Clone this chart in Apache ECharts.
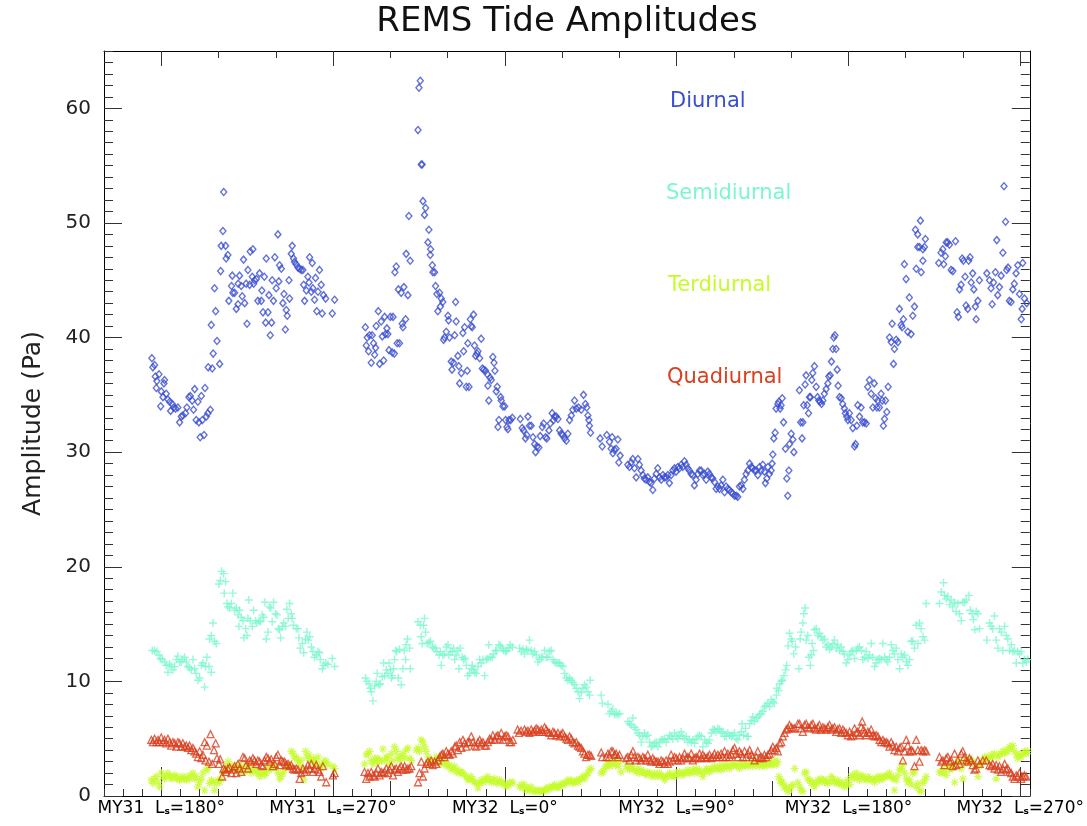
<!DOCTYPE html>
<html><head><meta charset="utf-8">
<script src="https://cdn.jsdelivr.net/npm/echarts@6/dist/echarts.min.js"></script>
<style>html,body{margin:0;padding:0;background:#fff}#c{width:1087px;height:826px}</style>
</head><body><div id="c"></div>
<script>
// ---- axis / tick labels ----
const xTickValues = [180, 270, 360, 450, 540, 630];
const xTickYears = ['MY31', 'MY31', 'MY32', 'MY32', 'MY32', 'MY32'];
const xTickLs = ['180°', '270°', '0°', '90°', '180°', '270°'];
const xMediumTicks = [300, 500, 600];
const xTopTicks = [180, 210, 240, 270, 300, 330, 360, 390, 420, 450, 480, 510, 540, 570, 600, 630];
const yTickValues = [0, 10, 20, 30, 40, 50, 60];
const seriesNames = ['Diurnal', 'Semidiurnal', 'Terdiurnal', 'Quadiurnal'];

// ---- data: [cumulative Ls (deg), amplitude (Pa)] ----
const diurnal = [
[175.1,38.2],[175.6,37.4],[176.5,37.6],[176.9,36.6],[178.8,36.8],[177.7,36.2],[181.7,36.3],[181.4,36.0],[177.4,35.6],[180.0,35.3],[179.7,34.0],[180.9,34.8],[182.6,35.1],[183.5,34.6],[184.4,34.4],[184.9,33.6],[185.8,34.2],[186.5,33.9],[187.5,33.8],[188.7,33.9],[189.6,32.6],[190.5,33.1],[191.3,33.2],[192.7,33.4],[193.4,33.9],[194.5,34.8],[195.2,34.9],[196.2,34.5],[196.9,33.7],[197.5,35.5],[198.3,32.8],[199.2,34.4],[199.7,32.6],[200.4,31.3],[201.0,34.9],[201.5,32.8],[202.4,31.5],[202.9,35.6],[203.6,33.1],[204.4,33.4],[205.7,33.7],[204.6,37.4],[206.7,37.3],[206.2,41.1],[207.2,38.6],[207.9,44.3],[208.5,42.3],[209.2,39.7],[210.6,37.7],[211.1,45.8],[211.4,48.0],[212.3,49.3],[212.7,52.7],[213.7,48.0],[214.0,46.9],[214.9,47.2],[215.4,43.2],[217.2,45.4],[216.8,44.5],[217.5,43.9],[218.4,43.9],[219.3,42.5],[220.2,42.9],[221.0,45.4],[220.3,44.7],[221.9,44.5],[222.4,43.6],[223.1,46.8],[223.7,43.0],[224.5,44.7],[224.9,41.2],[225.4,45.9],[226.3,44.6],[226.6,47.5],[227.7,45.3],[228.0,47.7],[228.4,44.7],[228.9,45.0],[229.8,45.1],[230.6,43.2],[231.5,45.6],[232.4,43.2],[232.7,44.1],[233.3,42.2],[234.0,45.3],[234.7,41.3],[235.0,46.9],[235.9,42.2],[236.4,43.7],[237.1,40.2],[237.8,41.3],[238.1,45.0],[238.8,43.2],[239.5,47.0],[240.2,44.3],[241.1,49.0],[241.6,44.9],[242.0,46.3],[242.9,46.0],[243.7,43.0],[244.3,43.8],[245.0,40.7],[245.5,42.4],[246.0,41.9],[246.9,45.0],[247.2,43.4],[248.1,47.3],[248.6,48.0],[249.3,46.9],[249.8,46.6],[250.7,46.4],[251.6,46.1],[252.5,46.0],[253.3,45.9],[254.2,45.9],[254.6,44.6],[255.1,43.2],[256.0,44.1],[256.8,45.3],[257.4,44.8],[257.7,47.0],[258.6,44.0],[259.1,46.5],[259.4,44.3],[260.3,43.3],[260.8,45.2],[261.5,42.3],[262.1,44.0],[262.9,45.9],[263.8,44.6],[264.3,42.1],[265.0,43.7],[266.1,43.4],[269.6,42.1],[270.8,43.3],
[286.9,40.9],[287.4,39.3],[287.9,40.0],[288.6,38.8],[289.1,40.2],[290.0,37.8],[290.5,40.2],[291.2,39.5],[291.8,38.5],[292.3,39.1],[292.6,41.0],[293.7,42.3],[294.4,37.7],[295.2,41.4],[295.8,40.1],[296.5,38.0],[297.0,41.8],[297.5,40.3],[298.2,40.8],[298.7,40.3],[299.3,38.9],[300.0,41.8],[301.0,38.7],[301.4,41.8],[302.1,38.6],[302.4,45.7],[303.1,46.2],[303.6,39.5],[304.2,44.2],[304.8,39.5],[305.7,43.9],[306.2,41.2],[306.6,40.9],[307.1,44.4],[308.0,41.6],[308.3,47.3],[309.2,43.7],[309.7,50.6],[310.4,46.7],[314.5,58.1],[315.0,61.8],[315.7,62.4],[316.2,55.1],[316.7,55.1],[317.1,51.9],[317.9,50.7],[318.5,51.3],[320.2,49.4],[319.7,48.3],[321.1,47.7],[320.9,47.2],[322.0,46.3],[322.3,45.7],[323.2,45.7],[323.7,44.5],[324.4,43.8],[324.9,42.3],[325.8,43.9],[326.2,42.7],[326.7,43.4],[327.5,43.1],[327.9,39.8],[328.4,40.0],[329.3,40.5],[330.2,41.9],[330.5,41.5],[331.0,40.0],[331.9,37.9],[332.3,37.2],[333.1,37.8],[333.7,40.2],[334.2,43.1],[334.5,41.4],[335.4,38.4],[335.9,37.5],[336.3,36.0],[337.2,36.9],[338.0,40.4],[338.4,38.8],[338.9,40.9],[339.8,35.7],[340.3,37.1],[340.6,39.5],[341.2,35.7],[341.9,41.6],[342.4,41.0],[342.9,40.9],[343.6,42.0],[344.1,39.3],[344.7,38.4],[345.4,38.6],[345.9,38.8],[346.8,38.2],[347.6,39.9],[348.2,37.3],[348.9,37.2],[349.9,37.1],[350.8,36.8],[351.1,35.8],[351.6,34.5],[352.3,36.5],[352.9,36.3],[353.7,38.3],[354.3,37.8],[354.8,37.1],[355.5,35.3],[356.0,35.7],[356.4,32.2],[356.9,32.8],[357.8,34.8],[358.1,34.5],[359.0,34.0],[359.9,34.0],[360.4,32.8],[361.1,32.2],[361.6,32.0],[362.1,32.8],[363.0,32.8],[363.9,33.0],[368.1,32.9],[369.1,32.1],[369.8,31.9],[370.8,31.2],[371.5,31.5],[372.1,33.1],[372.9,32.3],[373.8,32.3],[374.7,31.3],[375.6,30.7],[376.1,30.0],[376.8,30.5],[377.8,30.4],[378.5,31.4],[379.6,32.2],[380.3,32.5],[381.3,31.3],[382.0,31.2],[383.1,31.9],[383.8,32.5],[384.8,33.4],[385.5,32.8],[386.0,33.1],[386.9,33.1],[387.8,32.9],[388.7,31.9],[389.5,31.6],[390.4,31.5],[391.3,31.2],[392.2,31.0],[393.0,31.6],[393.9,32.8],[394.8,33.2],[395.6,33.7],[396.5,34.5],[397.4,33.8],[398.6,33.9],
[400.0,33.7],[401.2,35.0],[402.2,34.2],[402.9,33.9],[403.5,33.2],[404.0,32.8],[404.3,32.3],[404.9,31.7],[409.9,31.2],[411.0,30.5],[413.4,31.5],[414.8,30.9],[415.7,30.3],[416.2,31.3],[416.6,29.9],[417.4,30.2],[418.3,30.3],[419.2,31.1],[419.7,29.1],[420.4,29.7],[424.4,28.9],[425.3,28.7],[426.2,29.1],[427.0,29.4],[427.9,28.6],[428.8,27.8],[429.7,29.4],[430.5,28.9],[431.4,28.4],[432.3,28.0],[433.1,27.7],[434.0,27.6],[434.9,27.8],[435.8,27.4],[436.6,27.3],[437.5,26.7],[438.4,27.7],[439.3,28.1],[440.1,28.6],[441.0,27.8],[441.9,27.6],[442.8,28.0],[443.6,27.8],[444.5,27.8],[445.4,28.0],[446.2,27.3],[447.1,28.0],[448.0,28.4],[448.9,28.6],[449.7,28.3],[450.6,28.7],[451.5,28.6],[452.4,28.9],[453.2,28.7],[454.1,29.2],[455.0,28.9],[455.8,28.6],[456.7,28.4],[457.6,28.1],[458.5,28.0],[459.3,27.1],[460.2,27.6],[461.1,28.1],[462.0,28.4],[462.8,28.4],[463.7,28.0],[464.6,28.1],[465.5,27.6],[466.3,28.3],[467.2,28.1],[468.1,27.8],[468.9,27.7],[469.8,27.4],[470.7,26.8],[471.6,27.0],[472.4,26.8],[473.3,27.1],[474.2,27.6],[475.1,26.5],[475.9,27.0],[476.8,26.8],[477.7,26.7],[478.5,26.5],[479.4,26.4],[480.3,26.2],[481.2,26.2],[482.0,26.1],[482.9,27.0],[483.8,27.1],[484.7,26.8],[485.5,27.6],[486.4,28.1],[487.3,28.4],[488.2,29.0],[489.0,28.7],[489.9,28.6],[490.8,28.4],[491.6,28.4],[492.5,28.0],[493.4,28.7],[494.3,28.4],[495.1,28.9],[496.0,28.3],[496.5,27.3],[497.2,27.7],[497.8,28.7],[498.6,28.1],[499.5,28.4],[500.0,29.0],[500.4,29.8],[500.9,31.2],[501.6,31.7],[502.1,33.8],[503.0,34.2],[503.5,34.4],[504.2,33.8],[504.7,34.1],[505.3,34.7],[506.0,32.6],[507.0,30.3],[507.7,27.7],[508.2,26.2],[508.8,28.4],[509.1,30.7],[510.0,31.6],[510.9,31.1],[511.4,30.0],[514.3,35.4],[515.0,32.6],[515.7,31.2],[516.1,32.6],[516.6,34.1],[517.3,35.9],[517.8,36.7],[518.4,34.1],[519.1,33.4],[519.6,34.8],[520.1,34.8],[520.8,36.3],[521.3,36.9],[522.2,37.5],[523.1,35.7],[523.8,34.8],[524.5,34.5],[525.2,34.4],[525.9,34.2],[526.6,34.5],[527.4,35.1],[528.3,35.5],[529.2,36.0],[529.7,36.6],[530.4,36.7],[531.1,37.9],[531.8,39.0],[532.3,40.0],[532.9,40.2],[533.5,39.0],[534.1,37.2],[534.6,35.8],[535.3,34.8],[536.2,34.7],[537.0,34.2],[537.9,33.8],[538.4,33.4],[539.1,33.1],[539.7,32.8],[540.5,33.4],[541.4,32.8],[542.3,32.1],[543.2,30.5],[543.7,30.7],[544.4,32.3],[544.9,34.1],[545.8,33.1],[546.6,33.9],[547.5,32.6],[548.4,32.6],[549.3,32.5],[550.1,35.7],[551.0,36.3],[551.9,35.1],[552.8,33.9],[553.5,36.0],[554.2,34.7],[554.9,33.9],[555.4,34.5],[556.2,33.9],[557.1,35.1],[557.7,34.5],[558.3,32.3],[558.9,32.9],[559.4,34.5],[560.1,33.5],[560.8,35.7],[561.5,40.0],[562.4,39.6],[562.9,41.2],[563.6,37.7],[564.1,39.0],[565.0,39.8],[565.9,39.6],[566.7,42.5],[567.6,41.1],[568.1,40.9],[568.8,41.6],[569.3,46.4],[570.2,45.1],[571.1,40.5],[571.9,43.5],[572.8,40.3],[573.7,41.9],[574.6,42.7],[575.5,46.0],[576.3,47.9],[578.1,45.7],[579.0,46.7],[579.8,47.9],[575.1,49.4],[576.3,49.0],[577.7,50.2],[580.3,48.6],[577.2,47.9],[579.0,47.7],
[587.3,46.5],[588.5,47.4],[589.4,47.7],[589.9,46.4],[590.8,47.1],[591.2,48.3],[592.0,48.3],[592.9,48.1],[593.8,45.9],[594.7,45.8],[596.1,48.4],[596.9,42.2],[597.6,41.8],[598.2,44.2],[599.0,44.6],[599.6,46.9],[600.2,46.7],[601.1,45.3],[601.6,42.8],[602.5,42.5],[603.0,46.7],[603.7,47.0],[604.3,44.8],[605.1,45.6],[605.7,44.2],[606.5,42.7],[606.9,41.6],[607.8,43.2],[608.6,45.0],[612.5,45.6],[613.9,45.0],[614.7,44.3],[615.3,42.9],[616.0,44.8],[617.0,45.7],[617.7,48.5],[618.2,43.7],[619.1,44.4],[620.0,45.4],[620.9,47.4],[621.5,53.2],[622.3,50.1],[622.9,45.9],[623.6,46.1],[624.3,43.2],[625.2,43.1],[626.1,44.2],[626.9,44.7],[627.8,45.6],[628.7,46.3],[629.6,43.8],[630.5,41.6],[631.0,42.5],[631.3,46.5],[632.2,43.4],[633.4,43.0]
];

const semidiurnal = [
[175.3,12.7],[176.5,12.7],[177.7,12.6],[178.8,12.3],[179.5,12.0],[180.5,11.9],[181.7,11.7],[182.6,11.4],[183.5,10.8],[184.4,11.5],[185.2,11.3],[186.1,11.0],[187.0,11.3],[187.9,11.9],[188.7,12.2],[189.6,11.7],[190.5,11.7],[191.3,11.9],[192.2,12.1],[193.1,11.7],[194.0,11.3],[194.8,11.2],[195.7,11.0],[196.6,11.9],[197.5,11.1],[198.3,10.7],[199.2,10.1],[200.1,10.3],[201.0,11.4],[201.8,11.6],[202.7,9.5],[203.2,11.3],[203.9,12.1],[205.0,11.3],[206.2,10.8],[205.3,13.7],[206.2,14.0],[207.1,15.1],[207.9,13.5],[208.8,13.3],[210.2,18.5],[210.9,18.8],[211.6,19.6],[212.7,19.4],[213.7,18.7],[213.0,17.7],[214.4,16.8],[214.9,16.5],[215.8,16.4],[216.7,16.8],[217.5,17.7],[218.4,16.2],[219.3,16.4],[220.2,15.8],[220.7,14.8],[221.0,16.2],[221.9,15.6],[222.8,15.3],[223.3,13.8],[224.2,14.6],[224.9,14.0],[225.4,15.5],[225.9,17.1],[226.6,15.3],[227.7,14.8],[228.4,16.2],[229.4,15.3],[230.1,15.1],[231.2,15.3],[231.9,15.2],[232.9,15.8],[233.6,15.6],[234.3,16.9],[235.0,13.7],[235.9,14.3],[236.7,16.5],[237.4,16.4],[238.1,15.2],[238.8,16.9],[239.9,15.9],[240.6,15.8],[241.3,14.6],[242.0,14.5],[242.5,13.8],[243.4,14.8],[244.1,15.1],[245.1,14.8],[245.8,16.3],[246.5,15.5],[247.2,16.8],[248.1,15.9],[248.6,15.5],[249.3,14.9],[250.7,14.6],[251.6,14.6],[252.1,13.8],[252.8,12.9],[253.9,13.3],[254.6,12.5],[255.6,13.7],[256.3,14.3],[257.0,13.6],[257.7,13.9],[258.6,13.0],[259.4,12.6],[260.3,12.1],[261.2,12.3],[262.1,12.6],[262.9,12.5],[263.3,11.9],[264.3,11.1],[265.0,11.4],[266.1,11.6],[267.3,11.5],[269.6,12.0],[270.8,11.3],
[287.0,10.3],[287.7,10.0],[288.8,9.8],[289.5,9.4],[290.0,9.1],[290.9,8.3],[291.8,9.6],[292.6,10.0],[293.1,10.7],[294.0,9.7],[294.7,9.8],[295.8,10.4],[296.5,11.6],[297.0,10.5],[297.9,11.0],[298.7,10.7],[299.3,11.6],[300.0,11.0],[300.5,10.3],[301.0,10.5],[301.7,11.1],[302.2,11.9],[302.8,12.7],[303.4,12.6],[304.2,10.3],[304.8,12.8],[305.7,9.7],[306.6,11.1],[307.3,12.7],[308.0,11.9],[308.3,13.2],[309.0,13.7],[310.1,12.9],[310.4,11.1],[314.5,15.2],[315.7,14.9],[316.2,13.9],[316.7,13.3],[317.4,14.9],[317.9,15.5],[318.5,14.3],[319.2,13.3],[320.2,13.4],[320.9,13.5],[322.0,13.0],[322.7,12.9],[323.7,12.9],[324.4,12.6],[325.5,12.3],[326.2,12.6],[326.7,11.4],[327.5,12.3],[328.4,12.4],[329.3,13.0],[330.2,13.2],[330.7,12.3],[331.4,12.6],[332.4,12.6],[333.1,12.9],[333.7,11.9],[334.5,12.3],[335.4,12.7],[335.9,11.1],[336.6,12.9],[337.7,12.1],[338.4,11.9],[339.1,12.0],[339.8,11.4],[340.6,10.5],[341.5,10.7],[342.4,11.1],[342.9,11.4],[343.6,11.0],[344.1,10.8],[345.0,10.7],[345.9,11.3],[346.8,11.9],[347.6,11.6],[348.5,11.9],[349.4,10.5],[350.2,11.9],[351.1,12.0],[351.6,13.2],[352.3,12.1],[353.4,12.1],[354.1,12.4],[355.1,12.7],[355.8,12.7],[356.9,13.2],[357.8,13.1],[358.6,12.9],[359.3,12.7],[360.4,12.6],[361.1,12.7],[362.1,12.9],[362.8,13.2],[363.9,13.0],[367.7,12.9],[368.6,12.6],[369.5,12.8],[370.3,12.4],[371.2,12.8],[372.1,12.7],[372.9,13.6],[373.8,12.7],[374.7,12.4],[375.6,12.6],[376.4,12.3],[377.3,11.7],[378.2,11.9],[379.1,12.1],[379.9,12.1],[380.8,12.7],[381.7,12.1],[382.5,12.1],[383.4,12.6],[384.3,12.7],[385.2,11.9],[386.0,11.7],[386.9,11.6],[387.8,11.6],[388.7,11.6],[389.5,11.4],[390.4,11.3],[391.3,10.7],[392.2,10.3],[393.0,10.1],
[393.9,10.3],[394.8,10.1],[395.6,9.9],[396.5,9.7],[397.4,9.4],[398.3,9.1],[399.1,8.5],[400.0,9.0],[400.9,9.4],[401.7,9.7],[402.6,9.5],[403.5,9.1],[404.4,8.8],[404.7,10.1],[410.5,8.8],[411.0,8.1],[414.0,8.0],[414.8,7.2],[415.7,7.4],[416.6,7.6],[417.5,7.1],[418.3,7.2],[419.2,7.1],[420.1,7.2],[424.4,6.5],[425.3,6.3],[426.2,6.2],[427.1,6.8],[427.9,6.0],[428.8,5.8],[429.7,5.5],[430.6,5.3],[431.4,4.7],[432.3,5.2],[433.2,5.5],[434.0,5.2],[434.9,5.3],[435.8,4.7],[436.7,4.3],[437.5,4.4],[438.4,4.6],[439.3,4.7],[440.2,4.3],[441.0,4.7],[441.9,4.9],[442.8,4.9],[443.7,5.0],[444.5,4.7],[445.4,5.0],[446.3,5.3],[447.1,5.2],[448.0,5.0],[448.9,5.5],[449.8,5.2],[450.6,5.0],[451.5,5.3],[452.4,5.6],[453.3,5.2],[454.1,5.0],[455.0,5.2],[455.9,4.7],[456.7,4.9],[457.6,4.7],[458.5,4.9],[459.4,4.6],[460.2,5.0],[461.1,5.2],[462.0,5.3],[462.9,5.2],[463.7,4.3],[464.6,4.9],[465.5,4.7],[466.4,4.6],[467.2,4.9],[468.1,5.5],[469.0,5.8],[469.8,5.8],[470.7,5.6],[471.6,5.9],[472.5,5.8],[473.3,5.5],[474.2,5.6],[475.1,5.2],[476.0,5.2],[476.8,5.5],[477.7,5.3],[478.6,5.2],[479.4,5.3],[480.3,5.5],[481.2,5.0],[482.1,4.9],[482.9,5.3],[483.8,5.6],[484.3,6.3],[485.0,5.3],[486.1,5.9],[486.8,5.2],[487.5,5.2],[488.2,6.3],[489.1,6.6],[489.9,6.9],[490.8,6.5],[491.7,6.8],[492.5,6.9],[493.4,7.1],[494.3,7.2],[495.2,7.4],[496.0,7.8],[496.9,7.9],[497.8,8.1],[498.7,7.8],[499.5,8.4],[500.4,8.2],[501.3,8.1],[502.2,8.8],[502.5,9.4],[503.4,9.2],[503.9,9.8],[504.8,10.0],[505.3,10.1],[506.2,10.5],[507.0,11.0],[507.7,11.4],[508.4,13.1],[509.1,14.2],[510.0,13.7],[510.5,13.5],[511.4,12.4],[512.3,13.0],[514.0,11.1],[514.7,13.7],[515.2,14.3],[516.1,15.1],[516.6,15.9],[517.3,16.4],[517.9,13.6],[518.7,14.0],[519.3,12.1],[520.0,11.4],[520.5,12.3],[521.0,13.3],[521.7,12.7],[522.2,14.5],[523.1,14.6],[524.0,14.0],[524.8,14.2],[525.7,13.9],[526.6,13.6],[527.5,13.7],[528.3,13.0],[529.2,13.2],[530.1,12.8],[531.0,13.0],[531.8,13.3],[532.7,13.6],[533.6,12.9],[534.4,13.2],[535.3,12.7],[536.2,13.0],[537.1,12.6],[537.9,12.4],[538.8,11.6],[539.7,11.9],[540.6,12.3],[541.4,12.6],[542.3,12.7],[543.2,12.0],[544.1,12.7],[544.9,12.9],[545.8,13.0],[546.7,12.7],[547.5,11.9],[548.4,12.1],[549.3,12.6],[550.2,12.0],[551.0,12.3],[551.9,13.3],[552.8,12.1],[553.7,11.3],[554.5,11.6],[555.4,11.9],[556.3,12.0],[557.2,11.9],[558.0,13.3],[558.9,12.1],[559.8,11.9],[560.6,11.7],[561.5,12.1],[562.4,13.2],[563.3,12.7],[564.1,12.4],[565.0,12.9],[565.9,11.9],[566.8,11.1],[567.6,12.4],[568.5,12.1],[569.4,12.3],[570.3,11.7],[571.1,11.4],[572.0,11.9],[572.9,13.5],[573.7,13.5],[574.6,12.9],[575.5,14.9],[576.4,13.3],[577.2,15.1],[578.1,14.6],[579.0,13.9],[579.9,13.6],[580.7,16.8],
[587.7,16.8],[588.6,17.8],[589.8,18.6],[590.3,17.5],[591.2,17.2],[592.1,17.4],[593.0,16.7],[593.8,17.1],[594.7,16.5],[595.6,16.9],[596.4,16.1],[597.3,16.8],[598.2,15.9],[599.1,15.3],[599.9,16.9],[600.8,16.9],[601.7,17.1],[603.1,17.5],[603.8,16.2],[604.8,15.9],[605.5,15.4],[606.2,14.5],[606.9,16.1],[607.8,15.9],[608.7,14.6],[612.5,13.6],[613.9,15.1],[614.8,14.8],[615.6,14.6],[616.5,15.7],[617.4,13.6],[618.3,12.9],[619.1,14.6],[620.0,14.3],[620.9,12.7],[621.8,14.8],[622.6,14.0],[623.5,13.7],[624.4,12.7],[625.3,13.2],[626.1,12.6],[627.0,12.7],[627.9,11.6],[628.7,12.6],[629.6,12.4],[630.5,12.6],[631.4,11.6],[632.2,11.9],[633.1,11.7],[634.0,11.9]
];

const terdiurnal = [
[174.8,1.4],[175.6,1.1],[176.5,1.5],[177.4,1.7],[178.3,1.2],[179.1,0.8],[180.0,2.0],[180.9,1.7],[181.7,1.5],[182.6,1.8],[183.5,2.0],[184.4,1.7],[185.2,1.5],[186.1,1.7],[187.0,1.8],[187.9,1.5],[188.7,1.7],[189.6,1.4],[190.5,1.5],[191.3,1.7],[192.2,1.5],[193.1,1.4],[194.0,1.7],[194.8,1.5],[195.7,1.8],[196.6,2.0],[197.5,1.5],[198.3,1.7],[199.2,0.8],[200.1,1.2],[201.0,1.5],[201.8,2.0],[202.7,0.5],[203.6,2.3],[204.4,2.4],[205.3,1.1],[206.2,1.4],[207.1,1.2],[207.9,0.5],[208.8,1.1],[209.7,1.4],[210.6,1.2],[211.4,1.5],[212.3,2.0],[213.2,2.3],[214.0,2.6],[214.9,3.0],[215.8,2.7],[216.7,2.4],[217.5,2.6],[218.4,2.4],[219.3,2.6],[220.2,2.7],[221.0,2.1],[221.9,2.6],[222.8,2.3],[223.7,2.1],[224.5,2.6],[225.4,2.7],[226.3,2.3],[227.1,2.0],[228.0,2.4],[228.9,2.3],[229.8,2.1],[230.6,2.0],[231.5,1.7],[232.4,2.0],[233.3,2.1],[234.1,1.8],[235.0,2.0],[235.9,2.6],[236.7,2.3],[237.6,2.4],[238.5,2.7],[239.4,2.6],[240.2,2.4],[241.1,2.0],[242.0,1.5],[242.9,1.7],[243.7,2.0],[244.6,2.3],[245.5,2.7],[246.4,2.8],[247.2,2.6],[248.1,3.9],[249.0,3.7],[249.8,3.3],[250.7,3.4],[251.6,3.1],[252.5,2.7],[253.3,3.1],[254.2,2.3],[254.7,1.4],[255.6,3.9],[256.3,3.4],[257.4,3.6],[258.1,3.1],[259.1,3.0],[259.8,3.3],[260.3,2.8],[261.2,3.0],[262.1,3.4],[262.9,2.7],[263.8,2.4],[264.7,2.8],[265.6,3.1],[266.4,3.0],[267.3,2.7],[269.9,2.6],[270.8,2.4],
[286.5,2.8],[287.4,3.6],[288.3,3.7],[289.1,3.9],[290.0,3.1],[290.9,2.8],[291.8,3.3],[292.6,3.0],[293.5,3.3],[294.4,3.1],[295.2,3.0],[296.1,4.1],[297.0,3.1],[297.9,3.4],[298.7,3.3],[299.6,2.8],[300.5,3.7],[301.4,3.1],[302.2,4.3],[303.1,3.9],[304.0,3.4],[304.8,3.1],[305.7,3.4],[306.6,3.7],[307.5,3.3],[308.3,4.0],[309.2,4.2],[310.1,3.3],[311.0,3.1],[313.6,4.0],[314.5,4.2],[315.3,3.9],[316.2,4.9],[317.1,4.7],[317.9,4.3],[318.8,3.9],[319.7,3.4],[320.6,3.1],[321.4,2.8],[322.3,3.0],[323.2,3.1],[324.1,3.4],[324.9,3.3],[325.8,3.1],[326.7,2.8],[327.5,3.4],[328.4,3.0],[329.3,2.7],[330.2,2.6],[331.0,2.7],[331.9,2.3],[332.8,2.4],[333.7,2.6],[334.5,2.1],[335.4,2.3],[336.3,2.0],[337.2,2.1],[338.0,2.0],[338.9,1.8],[339.8,1.7],[340.6,1.4],[341.5,1.5],[342.4,1.7],[343.3,1.4],[344.1,1.2],[345.0,1.1],[345.9,0.7],[346.8,1.1],[347.6,1.4],[348.5,1.2],[349.4,1.5],[350.2,1.4],[351.1,1.7],[352.0,1.4],[352.9,1.2],[353.7,1.4],[354.6,1.5],[355.5,1.1],[356.4,1.2],[357.2,1.4],[358.1,1.1],[359.0,1.2],[359.9,1.0],[360.7,0.8],[361.6,1.0],[362.5,1.2],[363.3,1.1],[364.2,1.2],[367.7,0.8],[368.6,1.0],[369.5,0.7],[370.3,1.0],[371.2,0.5],[372.1,0.7],[372.9,0.5],[373.8,0.8],[374.7,0.4],[375.6,0.5],[376.4,0.4],[377.3,0.5],[378.2,0.4],[379.1,0.5],[379.9,0.4],[380.8,0.5],[381.7,0.7],[382.5,0.5],[383.4,0.8],[384.3,0.7],[385.2,0.8],[386.0,1.0],[386.9,0.8],[387.8,0.7],[388.7,0.8],[389.5,1.1],[390.4,1.0],[391.3,1.1],[392.2,1.2],[393.0,1.4],
[393.9,1.2],[394.8,1.4],[395.6,1.1],[396.5,1.2],[397.4,1.4],[398.3,1.2],[399.1,1.4],[400.0,1.5],[400.9,1.7],[401.7,1.5],[402.6,1.8],[403.5,2.0],[404.4,2.3],[405.2,2.4],[410.5,2.0],[411.4,2.1],[412.2,2.4],[413.1,2.6],[414.0,2.8],[414.8,2.6],[415.7,3.0],[416.6,2.7],[417.5,3.1],[418.3,2.8],[419.2,2.6],[420.1,3.0],[420.9,2.1],[423.6,2.6],[424.4,2.4],[425.3,2.3],[426.2,2.6],[427.1,2.4],[427.9,2.3],[428.8,2.1],[429.7,2.4],[430.6,2.0],[431.4,2.3],[432.3,2.1],[433.2,2.0],[434.0,1.8],[434.9,2.1],[435.8,2.0],[436.7,1.8],[437.5,1.7],[438.4,2.0],[439.3,1.8],[440.2,1.7],[441.0,2.0],[441.9,1.8],[442.8,1.7],[443.7,1.4],[444.5,1.7],[445.4,1.8],[446.3,2.0],[447.1,1.7],[448.0,1.8],[448.9,1.7],[449.8,2.0],[450.6,1.8],[451.5,2.1],[452.4,2.0],[453.3,1.8],[454.1,2.1],[455.0,2.0],[455.9,2.3],[456.7,2.0],[457.6,2.1],[458.5,2.3],[459.4,2.0],[460.2,2.4],[461.1,2.1],[462.0,2.3],[462.9,2.0],[463.7,1.7],[464.6,2.1],[465.5,2.4],[466.3,2.3],[467.2,2.1],[468.1,2.4],[469.0,2.3],[469.8,2.6],[470.7,2.4],[471.6,2.3],[472.4,2.6],[473.3,2.3],[474.2,2.7],[475.1,2.4],[476.0,2.6],[476.8,2.7],[477.7,2.4],[478.6,2.6],[479.4,2.7],[480.3,2.8],[481.2,2.6],[482.1,2.7],[482.9,2.4],[483.8,2.8],[484.7,2.6],[485.6,2.7],[486.4,2.8],[487.3,2.6],[488.2,2.7],[489.1,2.8],[489.9,2.6],[490.8,3.1],[491.7,2.7],[492.5,2.8],[493.4,2.6],[494.3,2.8],[495.2,2.7],[496.0,2.6],[496.9,2.8],[497.8,2.7],[498.7,3.0],[499.5,2.7],[500.4,2.8],[501.3,3.1],[502.2,2.7],[503.0,3.0],[503.5,1.7],[504.2,1.4],[504.8,1.1],[505.6,1.2],[506.5,0.7],[507.4,0.8],[508.3,0.4],[509.1,0.5],[510.0,0.8],[510.9,1.0],[511.8,2.4],[513.5,1.2],[514.4,0.8],[515.2,0.5],[516.1,0.4],[517.0,2.0],[517.9,2.1],[518.7,1.5],[519.6,1.4],[520.5,1.1],[521.4,1.2],[522.2,0.8],[523.1,1.1],[524.0,1.4],[524.8,1.2],[525.7,1.5],[526.6,1.4],[527.5,1.2],[528.3,1.4],[529.2,1.1],[530.1,1.2],[531.0,1.7],[531.8,1.5],[532.7,1.2],[533.6,1.1],[534.4,1.4],[535.3,1.1],[536.2,1.0],[537.1,1.2],[537.9,0.8],[538.8,1.0],[539.7,1.4],[540.6,1.0],[541.4,1.7],[542.3,1.8],[543.2,1.5],[544.1,2.0],[544.9,1.7],[545.8,1.4],[546.7,1.8],[547.5,1.7],[548.4,1.5],[549.3,1.4],[550.2,1.7],[551.0,1.5],[551.9,1.4],[552.8,1.5],[553.7,1.2],[554.5,1.5],[555.4,1.7],[556.3,1.4],[557.2,1.7],[558.0,1.5],[558.9,1.7],[559.8,1.8],[560.6,1.7],[561.5,2.0],[562.4,1.7],[563.3,1.5],[564.1,0.5],[565.0,1.4],[565.9,1.8],[566.8,2.3],[567.6,2.4],[568.5,2.7],[569.4,2.0],[570.3,1.5],[571.1,1.2],[572.0,1.4],[572.9,1.0],[573.7,2.0],[574.6,2.1],[575.5,0.8],[576.4,1.1],[577.2,0.5],[578.1,0.4],[579.0,1.1],[579.9,1.4],[580.7,1.7],
[587.7,2.1],[588.6,2.0],[589.5,2.4],[590.3,2.1],[591.2,1.8],[592.1,2.6],[593.0,2.3],[593.8,2.7],[594.7,2.4],[595.6,1.2],[596.4,2.8],[597.3,3.0],[598.2,3.1],[599.1,2.4],[599.9,1.5],[600.8,2.8],[601.7,3.1],[602.5,3.0],[603.4,3.3],[604.3,3.1],[605.2,3.0],[606.0,2.8],[607.8,1.7],[608.7,2.6],[609.5,2.8],[610.4,3.1],[611.3,3.4],[612.2,3.1],[613.0,3.4],[613.9,3.3],[614.8,3.6],[615.6,3.4],[616.5,3.7],[617.4,1.5],[618.3,3.4],[619.1,3.6],[620.0,3.7],[620.9,3.9],[621.8,3.7],[622.6,4.0],[623.5,3.9],[624.4,4.3],[625.3,4.2],[626.1,4.4],[627.0,3.9],[627.9,3.6],[628.7,3.3],[629.6,3.6],[630.5,3.4],[631.4,3.7],[632.2,3.9],[633.1,3.7],[634.0,3.9]
];

const quadiurnal = [
[174.8,4.9],[175.6,4.7],[176.5,5.0],[177.4,4.7],[178.3,4.9],[179.1,4.7],[180.0,5.1],[180.9,4.7],[181.7,4.9],[182.6,4.6],[183.5,5.0],[184.4,4.7],[185.2,4.4],[186.1,4.7],[187.0,4.6],[187.9,4.3],[188.7,4.7],[189.6,4.6],[190.5,4.3],[191.3,4.6],[192.2,4.3],[193.1,4.4],[194.0,4.2],[194.8,4.4],[195.7,4.0],[196.6,4.2],[197.5,3.9],[198.3,3.7],[199.2,3.4],[200.1,3.9],[201.0,3.3],[201.8,3.6],[202.7,4.7],[203.2,3.1],[203.9,4.4],[205.0,3.0],[205.8,5.4],[206.7,2.8],[207.6,4.0],[208.5,4.6],[209.2,3.3],[210.2,2.8],[210.9,3.2],[211.9,1.7],[212.6,2.4],[213.4,2.3],[214.0,2.1],[214.9,2.4],[215.8,2.5],[216.7,2.0],[217.5,2.3],[218.4,2.6],[219.3,2.0],[220.2,2.8],[221.0,2.4],[221.9,2.1],[222.8,3.4],[223.7,3.3],[224.5,2.7],[225.4,2.4],[226.3,3.1],[227.1,3.0],[228.0,3.3],[228.9,3.1],[229.8,2.8],[230.6,3.1],[231.5,3.0],[232.4,2.7],[233.3,2.6],[234.1,3.1],[235.0,3.4],[235.9,3.3],[236.7,3.0],[237.6,3.2],[238.5,2.6],[239.4,2.8],[240.2,3.4],[241.1,3.6],[242.0,2.7],[242.9,3.1],[243.7,3.0],[244.6,3.0],[245.5,2.7],[246.4,2.8],[247.2,2.6],[248.1,2.7],[249.0,2.4],[249.8,2.3],[250.7,2.4],[251.6,2.3],[252.5,1.5],[253.3,2.0],[254.2,2.4],[255.1,2.1],[256.0,2.3],[256.8,2.7],[257.7,2.4],[258.6,2.8],[259.4,2.1],[260.3,2.4],[261.2,2.7],[262.1,2.3],[262.9,2.1],[263.8,1.7],[264.7,2.6],[266.4,1.2],[269.9,1.8],[270.8,2.0],
[286.5,2.1],[287.4,1.5],[288.3,2.0],[289.1,1.7],[290.0,2.1],[290.9,1.8],[291.8,1.7],[292.6,2.0],[293.5,2.4],[294.4,1.8],[295.2,2.1],[296.1,2.0],[297.0,2.1],[297.9,2.4],[298.7,2.0],[299.6,2.3],[300.5,2.6],[301.4,1.8],[302.2,2.3],[303.1,2.4],[304.0,2.1],[304.8,2.4],[305.7,2.6],[306.6,2.3],[307.5,2.6],[308.3,2.3],[309.2,2.4],[310.1,2.4],[311.0,2.6],[314.5,1.2],[315.3,2.0],[316.2,3.0],[317.1,1.7],[317.9,2.4],[318.8,2.8],[319.7,3.0],[320.6,2.8],[321.4,3.1],[322.3,2.7],[323.2,3.0],[324.1,2.8],[324.9,3.1],[325.8,3.4],[326.7,3.6],[327.5,3.7],[328.4,3.4],[329.3,3.9],[330.2,3.7],[331.0,3.6],[331.9,3.9],[332.8,3.7],[333.7,4.3],[334.5,4.4],[335.4,4.0],[336.3,4.7],[337.2,4.2],[338.0,4.9],[338.9,4.6],[339.8,4.3],[340.6,4.7],[341.5,4.7],[342.4,5.2],[343.3,4.7],[344.1,4.4],[345.0,4.3],[345.9,4.7],[346.8,4.9],[347.6,4.6],[348.5,4.7],[349.4,4.4],[350.2,4.4],[351.1,4.7],[352.0,5.0],[352.9,4.9],[353.7,5.3],[354.6,4.9],[355.5,5.2],[356.4,5.3],[357.2,5.0],[358.1,5.5],[359.0,4.9],[359.9,5.2],[360.7,5.3],[361.6,5.2],[362.5,4.7],[363.3,4.7],[364.2,4.9],[366.7,5.8],[367.4,5.5],[368.5,5.7],[370.3,5.8],[371.2,5.6],[372.1,5.7],[372.9,5.5],[373.8,5.8],[374.7,5.6],[375.6,5.7],[376.4,5.9],[377.3,5.8],[378.2,5.6],[379.1,5.8],[379.9,5.6],[380.8,6.0],[381.7,5.8],[382.5,5.6],[383.4,5.5],[384.3,5.3],[385.2,5.6],[386.0,5.5],[386.9,5.3],[387.8,5.5],[388.7,5.2],[389.5,5.4],[390.4,5.5],[391.3,5.2],[392.2,5.0],[393.0,4.9],
[393.9,5.2],[394.8,5.0],[395.6,4.7],[396.5,4.6],[397.4,4.7],[398.3,4.4],[399.1,4.3],[400.0,4.2],[400.9,3.9],[401.7,3.7],[402.6,3.4],[403.5,3.6],[404.4,3.6],[405.2,3.5],[410.5,3.8],[411.0,3.4],[413.1,3.4],[414.0,3.7],[414.8,3.4],[415.7,3.9],[416.6,3.9],[417.5,3.6],[418.3,3.7],[419.2,3.4],[420.1,3.6],[423.6,3.3],[424.4,3.4],[425.3,3.1],[426.2,3.6],[427.1,3.9],[427.9,3.4],[428.8,3.1],[429.7,3.4],[430.6,3.3],[431.4,3.1],[432.3,3.4],[433.2,3.3],[434.0,3.1],[434.9,3.6],[435.8,3.1],[436.7,3.0],[437.5,3.3],[438.4,3.1],[439.3,3.0],[440.2,3.0],[441.0,2.8],[441.9,3.1],[442.8,3.0],[443.7,2.8],[444.5,3.1],[445.4,2.8],[446.3,3.0],[447.1,3.6],[448.0,3.1],[448.9,3.4],[449.8,3.3],[450.6,3.1],[451.5,3.4],[452.4,3.1],[453.3,3.3],[454.1,3.7],[455.0,3.3],[455.9,3.4],[456.7,3.3],[457.6,3.7],[458.5,3.1],[459.4,3.3],[460.2,3.4],[461.1,3.3],[462.0,3.7],[462.9,3.3],[463.7,3.6],[464.6,3.4],[465.5,3.3],[466.3,3.4],[467.2,3.6],[468.1,3.3],[469.0,3.4],[469.8,3.7],[470.7,3.4],[471.6,3.6],[472.4,3.4],[473.3,3.7],[474.2,3.4],[475.1,3.9],[476.0,3.4],[476.8,3.7],[477.7,3.4],[478.6,3.6],[479.4,4.0],[480.3,4.2],[481.2,3.7],[482.1,3.4],[482.9,3.9],[483.8,3.7],[484.7,3.4],[485.6,3.9],[486.4,3.4],[487.3,3.7],[488.2,4.0],[489.1,3.6],[489.9,3.4],[490.8,3.1],[491.7,3.4],[492.5,3.9],[493.4,3.3],[494.3,3.4],[495.2,3.3],[496.0,3.6],[496.9,3.4],[497.8,3.6],[498.7,3.7],[499.5,4.0],[500.4,4.3],[501.3,4.0],[502.2,4.2],[503.0,3.9],[503.9,4.6],[504.8,4.7],[505.6,5.2],[506.5,5.5],[507.4,5.8],[508.3,5.9],[509.1,6.2],[510.0,6.0],[510.9,5.9],[511.8,5.9],[513.5,6.3],[514.4,6.3],[515.2,5.9],[516.1,5.6],[517.0,6.2],[517.9,6.3],[518.7,6.0],[519.6,5.9],[520.5,6.2],[521.4,6.3],[522.2,5.9],[523.1,5.8],[524.0,6.0],[524.8,6.2],[525.7,5.8],[526.6,6.0],[527.5,5.9],[528.3,5.8],[529.2,6.0],[530.1,6.2],[531.0,5.8],[531.8,5.9],[532.7,6.0],[533.6,5.6],[534.4,5.8],[535.3,5.9],[536.2,5.5],[537.1,5.8],[537.9,5.6],[538.8,5.5],[539.7,5.3],[540.6,5.6],[541.4,5.2],[542.3,5.3],[543.2,5.9],[544.1,5.5],[544.9,5.6],[545.8,5.3],[546.7,6.0],[547.2,6.5],[547.9,5.8],[548.4,5.5],[549.3,5.3],[550.2,5.6],[551.0,5.5],[551.9,5.8],[552.8,5.3],[553.7,5.2],[554.5,5.3],[555.4,5.2],[556.3,4.9],[557.2,4.7],[558.0,4.9],[558.9,4.7],[559.8,4.7],[560.6,4.6],[561.5,4.3],[562.4,4.7],[563.3,4.4],[564.1,4.0],[565.0,4.3],[565.9,3.9],[566.8,4.2],[567.6,4.3],[568.5,3.1],[569.4,3.9],[570.3,4.9],[571.1,4.4],[572.0,3.9],[572.9,4.0],[573.7,3.9],[574.6,2.6],[575.5,4.9],[576.4,4.0],[577.2,3.0],[578.1,4.0],[579.0,3.9],[579.9,4.0],[580.7,3.9],
[587.7,3.4],[588.6,3.0],[589.5,3.1],[590.3,2.7],[591.2,3.3],[592.1,3.4],[593.0,3.0],[593.8,3.1],[594.7,2.6],[595.6,3.7],[596.4,2.7],[597.3,3.1],[598.2,2.8],[599.1,3.7],[599.9,3.9],[600.8,3.4],[601.7,3.1],[602.5,3.0],[603.4,3.3],[604.3,3.1],[605.2,2.7],[606.0,2.3],[606.9,2.4],[607.8,3.1],[608.7,2.8],[610.4,3.1],[612.2,3.1],[613.9,2.7],[614.8,2.6],[615.6,2.8],[616.5,2.4],[617.4,2.7],[618.3,2.3],[619.1,2.6],[620.0,2.1],[620.9,2.4],[621.8,2.8],[622.6,2.3],[623.5,2.4],[624.4,2.1],[625.3,2.0],[626.1,1.7],[627.0,1.5],[627.9,1.8],[628.7,1.7],[629.6,2.0],[630.5,1.5],[631.4,1.7],[632.2,1.8],[633.1,1.7]
];

// ---- rendering ----
const FONT = 'DejaVu Sans';
const colors = ['#3a4ed0', '#7af7cc', '#c6fb2a', '#d8401f'];
const XMIN = 150, XMAX = 635, YMIN = 0, YMAX = 65;

function decoX(pos, vals, len, showLine) {
  return {
    type: 'value', position: pos, min: XMIN, max: XMAX,
    axisLine: { show: !!showLine, onZero: false, lineStyle: { color: '#000', width: 1 } },
    axisTick: { show: true, inside: true, length: len, customValues: vals, lineStyle: { color: '#333', width: 1 } },
    axisLabel: { show: false }, splitLine: { show: false }
  };
}
function decoY(pos, vals, len, showLine) {
  return {
    type: 'value', position: pos, min: YMIN, max: YMAX,
    axisLine: { show: !!showLine, onZero: false, lineStyle: { color: '#000', width: 1 } },
    axisTick: { show: true, inside: true, length: len, customValues: vals, lineStyle: { color: '#333', width: 1 } },
    axisLabel: { show: false }, splitLine: { show: false }
  };
}

const chart = echarts.init(document.getElementById('c'), null, { renderer: 'canvas' });
const hollow = (c, w) => ({ color: 'rgba(0,0,0,0)', borderColor: c, borderWidth: w });

chart.setOption({
  animation: false,
  backgroundColor: '#fff',
  grid: { left: 104, top: 51, width: 926, height: 745 },
  xAxis: [
    {
      type: 'value', position: 'bottom', min: XMIN, max: XMAX, interval: 10,
      axisLine: { show: true, onZero: false, lineStyle: { color: '#000', width: 1 } },
      axisTick: { show: true, inside: true, length: 7, lineStyle: { color: '#333', width: 1 } },
      axisLabel: {
        show: true, customValues: xTickValues, margin: 4, color: '#000',
        fontFamily: FONT, fontSize: 17,
        formatter: function (v) {
          const i = xTickValues.indexOf(v);
          if (i < 0) return '';
          return '{a|' + xTickYears[i] + '  L}{s|s}{a|=' + xTickLs[i] + '}';
        },
        rich: {
          a: { fontFamily: FONT, fontSize: 17, color: '#000' },
          s: { fontFamily: FONT, fontSize: 9, fontWeight: 'bold', color: '#000', padding: [7, 0, 0, 0] }
        }
      },
      splitLine: { show: false }
    },
    decoX('bottom', xTickValues, 29, false),
    decoX('bottom', xMediumTicks, 15, false),
    decoX('top', xTopTicks, 7, true),
    decoX('top', xTickValues, 15, false)
  ],
  yAxis: [
    {
      type: 'value', position: 'left', min: YMIN, max: YMAX, interval: 1,
      axisLine: { show: true, onZero: false, lineStyle: { color: '#000', width: 1 } },
      axisTick: { show: true, inside: true, length: 9, lineStyle: { color: '#333', width: 1 } },
      axisLabel: { show: true, customValues: yTickValues, margin: 13, color: '#222', fontFamily: FONT, fontSize: 20 },
      splitLine: { show: false },
      name: 'Amplitude (Pa)', nameLocation: 'middle', nameGap: 58, nameRotate: 90,
      nameTextStyle: { fontFamily: FONT, fontSize: 25, color: '#222' }
    },
    decoY('left', yTickValues, 18, false),
    {
      type: 'value', position: 'right', min: YMIN, max: YMAX, interval: 1,
      axisLine: { show: true, onZero: false, lineStyle: { color: '#000', width: 1 } },
      axisTick: { show: true, inside: true, length: 9, lineStyle: { color: '#333', width: 1 } },
      axisLabel: { show: false }, splitLine: { show: false }
    },
    decoY('right', yTickValues, 18, false)
  ],
  graphic: [
    { type: 'text', x: 567, y: 22, style: { text: 'REMS Tide Amplitudes', align: 'center', verticalAlign: 'middle', fill: '#111', font: '34px "' + FONT + '"' } },
    { type: 'text', x: 670, y: 102, style: { text: seriesNames[0], verticalAlign: 'middle', fill: colors[0], font: '21px "' + FONT + '"' } },
    { type: 'text', x: 666, y: 194, style: { text: seriesNames[1], verticalAlign: 'middle', fill: colors[1], font: '21px "' + FONT + '"' } },
    { type: 'text', x: 668, y: 286, style: { text: seriesNames[2], verticalAlign: 'middle', fill: colors[2], font: '21px "' + FONT + '"' } },
    { type: 'text', x: 667, y: 378, style: { text: seriesNames[3], verticalAlign: 'middle', fill: colors[3], font: '21px "' + FONT + '"' } }
  ],
  series: [
    { name: seriesNames[0], type: 'scatter', data: diurnal, symbol: 'diamond', symbolSize: [6, 7], itemStyle: hollow(colors[0], 1.4), silent: true },
    { name: seriesNames[1], type: 'scatter', data: semidiurnal, symbol: 'path://M0,5L10,5M5,0L5,10', symbolSize: 8, itemStyle: hollow(colors[1], 1.4), silent: true },
    { name: seriesNames[2], type: 'scatter', data: terdiurnal, symbol: 'path://M5,0L5,10M0,5L10,5M1.5,1.5L8.5,8.5M8.5,1.5L1.5,8.5', symbolSize: 8, itemStyle: hollow(colors[2], 1.2), silent: true },
    { name: seriesNames[3], type: 'scatter', data: quadiurnal, symbol: 'triangle', symbolSize: 7, itemStyle: hollow(colors[3], 1.3), silent: true }
  ]
});
</script>
</body></html>
